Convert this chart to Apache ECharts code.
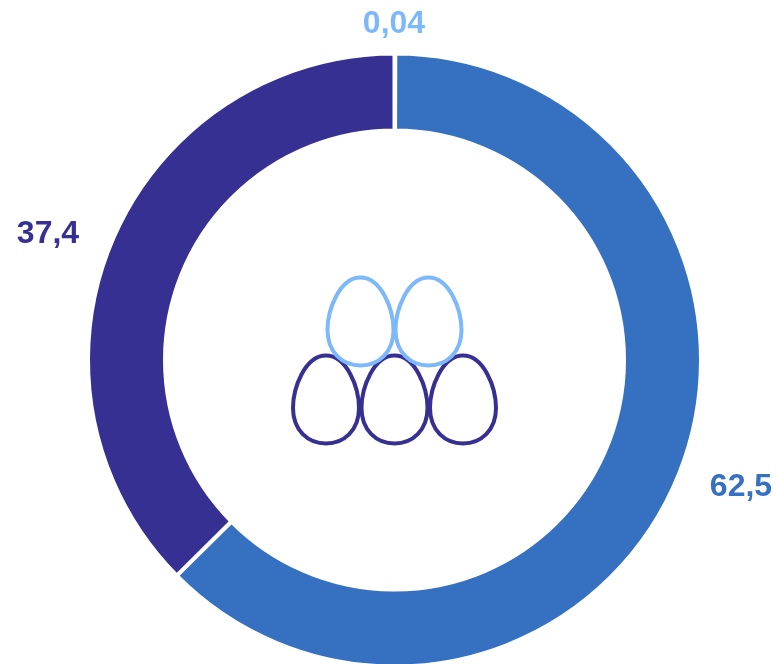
<!DOCTYPE html>
<html><head><meta charset="utf-8">
<style>html,body{margin:0;padding:0;background:#fff}#c{width:777px;height:664px}</style>
<script src="https://cdn.jsdelivr.net/npm/echarts@6/dist/echarts.min.js"></script>
</head><body><div id="c"></div>
<script>
const categories = ['a', 'b', 'c'];
const values = [0.04, 62.5, 37.4];
const valueLabels = ['0,04', '62,5', '37,4'];
const colors = ['#7db8fb', '#3670c0', '#373093'];
const labelSpots = [[394, 24], [741, 487], [48, 234]];
const eggSpots = [[326, 408, 2], [394.5, 408, 2], [463, 408, 2], [360.5, 330, 0], [428.5, 330, 0]];
const eggPath = 'M0 -52 C21 -52 33 -20 33 0 C33 22 18 35 0 35 C-18 35 -33 22 -33 0 C-33 -20 -21 -52 0 -52 Z';

const chart = echarts.init(document.getElementById('c'), null, { renderer: 'canvas' });
chart.setOption({
  animation: false,
  series: [{
    type: 'pie',
    center: [394.5, 360],
    radius: [229.5, 306.5],
    startAngle: 90,
    avoidLabelOverlap: false,
    minShowLabelAngle: 0,
    silent: true,
    itemStyle: { borderColor: '#fff', borderWidth: 4 },
    labelLine: { show: false },
    label: {
      show: true,
      fontFamily: 'Liberation Sans',
      fontWeight: 'bold',
      fontSize: 32,
      formatter: p => valueLabels[p.dataIndex]
    },
    labelLayout: p => ({
      x: labelSpots[p.dataIndex][0],
      y: labelSpots[p.dataIndex][1],
      align: 'center',
      verticalAlign: 'middle'
    }),
    data: categories.map((c, i) => ({
      name: c,
      value: values[i],
      itemStyle: { color: colors[i] },
      label: { color: colors[i] }
    }))
  }, {
    type: 'custom',
    coordinateSystem: 'none',
    silent: true,
    data: eggSpots,
    renderItem: (params, api) => ({
      type: 'path',
      x: api.value(0),
      y: api.value(1),
      shape: { pathData: eggPath, x: -33, y: -52.5, width: 66, height: 88, layout: 'cover' },
      style: { fill: '#fff', stroke: colors[api.value(2)], lineWidth: 4 }
    })
  }]
});
</script></body></html>
